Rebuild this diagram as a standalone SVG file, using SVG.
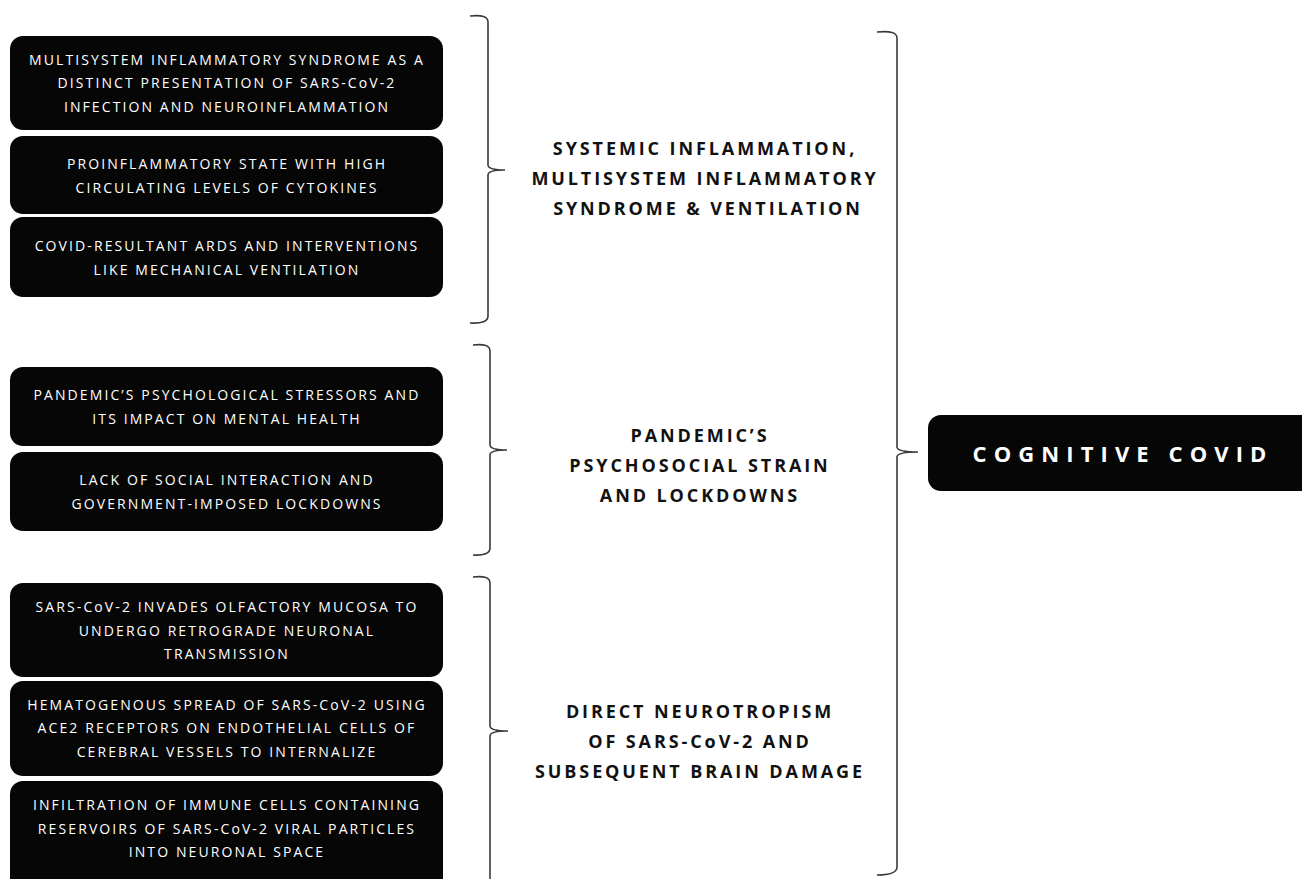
<svg xmlns="http://www.w3.org/2000/svg" width="1302" height="879" viewBox="0 0 1302 879">
<style>
.box{fill:#060606;}
.bt{font-family:"Open Sans","Liberation Sans",sans-serif;font-size:14px;letter-spacing:2.1px;fill:#ffffff;text-anchor:middle;}
.lbl{font-family:"Open Sans","Liberation Sans",sans-serif;font-size:18px;font-weight:bold;letter-spacing:2.9px;fill:#111111;text-anchor:middle;}
.brace{fill:none;stroke:#3a3a3a;stroke-width:1.6;}
.main{font-family:"Open Sans","Liberation Sans",sans-serif;font-size:22px;font-weight:bold;letter-spacing:7.1px;fill:#ffffff;text-anchor:middle;}
</style>
<rect width="1302" height="879" fill="#ffffff"/>

<g id="node-mis">
<rect class="box" x="10" y="36" width="433" height="94" rx="13"/>
<text class="bt" x="227" y="65">MULTISYSTEM INFLAMMATORY SYNDROME AS A</text>
<text class="bt" x="227" y="88">DISTINCT PRESENTATION OF SARS-CoV-2</text>
<text class="bt" x="227" y="112">INFECTION AND NEUROINFLAMMATION</text>
</g>
<g id="node-proinflammatory">
<rect class="box" x="10" y="136" width="433" height="78" rx="13"/>
<text class="bt" x="227" y="169">PROINFLAMMATORY STATE WITH HIGH</text>
<text class="bt" x="227" y="193">CIRCULATING LEVELS OF CYTOKINES</text>
</g>
<g id="node-ards">
<rect class="box" x="10" y="217" width="433" height="80" rx="13"/>
<text class="bt" x="227" y="251">COVID-RESULTANT ARDS AND INTERVENTIONS</text>
<text class="bt" x="227" y="275">LIKE MECHANICAL VENTILATION</text>
</g>
<g id="node-stressors">
<rect class="box" x="10" y="367" width="433" height="79" rx="13"/>
<text class="bt" x="227" y="400">PANDEMIC’S PSYCHOLOGICAL STRESSORS AND</text>
<text class="bt" x="227" y="424">ITS IMPACT ON MENTAL HEALTH</text>
</g>
<g id="node-social">
<rect class="box" x="10" y="452" width="433" height="79" rx="13"/>
<text class="bt" x="227" y="485">LACK OF SOCIAL INTERACTION AND</text>
<text class="bt" x="227" y="509">GOVERNMENT-IMPOSED LOCKDOWNS</text>
</g>
<g id="node-olfactory">
<rect class="box" x="10" y="583" width="433" height="94" rx="13"/>
<text class="bt" x="227" y="612">SARS-CoV-2 INVADES OLFACTORY MUCOSA TO</text>
<text class="bt" x="227" y="636">UNDERGO RETROGRADE NEURONAL</text>
<text class="bt" x="227" y="659">TRANSMISSION</text>
</g>
<g id="node-hematogenous">
<rect class="box" x="10" y="681" width="433" height="95" rx="13"/>
<text class="bt" x="227" y="710">HEMATOGENOUS SPREAD OF SARS-CoV-2 USING</text>
<text class="bt" x="227" y="733">ACE2 RECEPTORS ON ENDOTHELIAL CELLS OF</text>
<text class="bt" x="227" y="757">CEREBRAL VESSELS TO INTERNALIZE</text>
</g>
<g id="node-infiltration">
<rect class="box" x="10" y="781" width="433" height="112" rx="13"/>
<text class="bt" x="227" y="810">INFILTRATION OF IMMUNE CELLS CONTAINING</text>
<text class="bt" x="227" y="834">RESERVOIRS OF SARS-CoV-2 VIRAL PARTICLES</text>
<text class="bt" x="227" y="857">INTO NEURONAL SPACE</text>
</g>

<g id="label-systemic">
<text class="lbl" x="705" y="155">SYSTEMIC INFLAMMATION,</text>
<text class="lbl" x="705" y="185">MULTISYSTEM INFLAMMATORY</text>
<text class="lbl" x="708" y="215">SYNDROME &amp; VENTILATION</text>
</g>
<g id="label-psychosocial">
<text class="lbl" x="700" y="442">PANDEMIC’S</text>
<text class="lbl" x="700" y="472">PSYCHOSOCIAL STRAIN</text>
<text class="lbl" x="700" y="502">AND LOCKDOWNS</text>
</g>
<g id="label-neurotropism">
<text class="lbl" x="700" y="718">DIRECT NEUROTROPISM</text>
<text class="lbl" x="700" y="748">OF SARS-CoV-2 AND</text>
<text class="lbl" x="700" y="778">SUBSEQUENT BRAIN DAMAGE</text>
</g>

<g id="node-cognitive-covid">
<rect class="box" x="928" y="415" width="420" height="76" rx="13"/>
<text class="main" x="1123" y="462">COGNITIVE COVID</text>
</g>

<g id="connectors">
<path class="brace" d="M470,16 Q488,14 488,22 L488,165 Q488,170 505,170 Q488,170 488,175 L488,316 Q488,324 470,323"/>
<path class="brace" d="M473,345 Q490,343 490,351 L490,445 Q490,450 507,450 Q490,450 490,455 L490,548 Q490,556 473,555"/>
<path class="brace" d="M473,577 Q490,575 490,583 L490,726 Q490,731 508,731 Q490,731 490,736 L490,879"/>
<path class="brace" d="M877,32 Q897,30 897,38 L897,447 Q897,452 918,452 Q897,452 897,457 L897,867 Q897,875 877,875"/>
</g>
</svg>
